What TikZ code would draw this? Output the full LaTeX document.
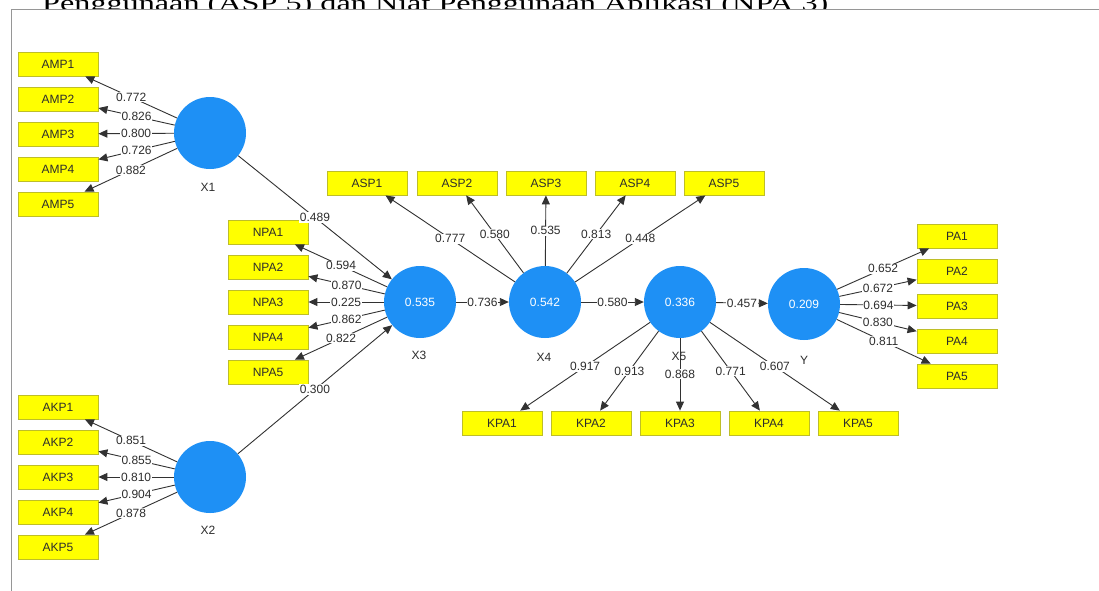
\documentclass[tikz,border=0pt]{standalone}
\usepackage{fontspec}
\setmainfont{Liberation Sans}
\newfontfamily\titlefont{Liberation Serif}
\usetikzlibrary{arrows.meta}
\definecolor{lvblue}{RGB}{30,144,245}
\definecolor{indfill}{RGB}{255,255,0}
\definecolor{indedge}{RGB}{190,190,40}
\definecolor{linec}{RGB}{50,50,50}
\definecolor{txt}{RGB}{45,45,45}
\definecolor{framec}{RGB}{150,150,150}
\begin{document}
\begin{tikzpicture}[x=1pt,y=-1pt,
 ind/.style={rectangle, fill=indfill, draw=indedge, line width=0.8pt, minimum width=80pt, minimum height=24pt, inner sep=0pt, font=\fontsize{12}{12}\selectfont, text=txt},
 lat/.style={circle, fill=lvblue, minimum size=72pt, inner sep=0pt, text=white, font=\fontsize{12}{12}\selectfont},
 latname/.style={font=\fontsize{12}{12}\selectfont, text=txt, inner sep=0pt},
 ld/.style={draw=linec, line width=0.9pt, -{Triangle[length=9pt,width=8pt]}},
 lbl/.style={fill=white, inner sep=0.8pt, font=\fontsize{12}{12}\selectfont, text=txt},
]
\useasboundingbox (0,0) rectangle (1099,590);
\node[anchor=base west, inner sep=0pt] (title) at (42,10) {\resizebox{786pt}{15pt}{\titlefont Penggunaan (ASP 5) dan Niat Penggunaan Aplikasi (NPA 3)}};
\path[fill=white, draw=framec, line width=0.8pt] (11,9.5) rectangle (1110,600);

% indicators
\foreach \i/\y in {1/64,2/99,3/134,4/169,5/204} \node[ind] (AMP\i) at (58,\y) {AMP\i};
\foreach \i/\y in {1/407,2/442,3/477,4/512,5/547} \node[ind] (AKP\i) at (58,\y) {AKP\i};
\foreach \i/\y in {1/232,2/267,3/302,4/337,5/372} \node[ind] (NPA\i) at (268,\y) {NPA\i};
\foreach \i/\x in {1/367,2/457,3/546,4/635,5/724} \node[ind] (ASP\i) at (\x,183) {ASP\i};
\foreach \i/\x in {1/502,2/591,3/680,4/769,5/858} \node[ind] (KPA\i) at (\x,423) {KPA\i};
\foreach \i/\y in {1/236,2/271,3/306,4/341,5/376} \node[ind] (PA\i) at (957,\y) {PA\i};

% latent variables
\node[lat] (X1) at (210,133) {};
\node[lat] (X2) at (210,477) {};
\node[lat] (X3) at (420,302) {0.535};
\node[lat] (X4) at (545,302) {0.542};
\node[lat] (X5) at (680,302) {0.336};
\node[lat] (Y) at (804,304) {0.209};

\node[latname] (nX1) at (208,187) {X1};
\node[latname] (nX2) at (208,530) {X2};
\node[latname] (nX3) at (419,355) {X3};
\node[latname] (nX4) at (544,357) {X4};
\node[latname] (nX5) at (679,356) {X5};
\node[latname] (nY) at (804,360) {Y};

% outer loadings
\foreach \i/\v in {1/0.772,2/0.826,3/0.800,4/0.726,5/0.882} \draw[ld] (X1) -- node[lbl]{\v} (AMP\i);
\foreach \i/\v in {1/0.851,2/0.855,3/0.810,4/0.904,5/0.878} \draw[ld] (X2) -- node[lbl]{\v} (AKP\i);
\foreach \i/\v in {1/0.594,2/0.870,3/0.225,4/0.862,5/0.822} \draw[ld] (X3) -- node[lbl]{\v} (NPA\i);
\foreach \i/\v in {1/0.777,2/0.580,3/0.535,4/0.813,5/0.448} \draw[ld] (X4) -- node[lbl]{\v} (ASP\i);
\foreach \i/\v in {1/0.917,2/0.913,3/0.868,4/0.771,5/0.607} \draw[ld] (X5) -- node[lbl]{\v} (KPA\i);
\foreach \i/\v in {1/0.652,2/0.672,3/0.694,4/0.830,5/0.811} \draw[ld] (Y) -- node[lbl]{\v} (PA\i);

% path coefficients
\draw[ld] (X1) -- node[lbl]{0.489} (X3);
\draw[ld] (X2) -- node[lbl]{0.300} (X3);
\draw[ld] (X3) -- node[lbl]{0.736} (X4);
\draw[ld] (X4) -- node[lbl]{0.580} (X5);
\draw[ld] (X5) -- node[lbl]{0.457} (Y);
\end{tikzpicture}
\end{document}
